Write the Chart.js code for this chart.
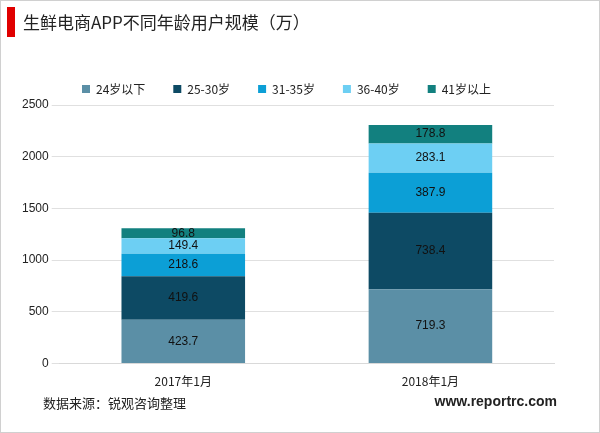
<!DOCTYPE html>
<html><head><meta charset="utf-8">
<script src="https://cdn.jsdelivr.net/npm/chart.js@4"></script>
<style>
body{margin:0;background:#fff;font-family:"Noto Sans CJK SC","Liberation Sans",sans-serif}
#wrap{position:relative;width:598px;height:431px;border:1px solid #d0d0d0}
#bar{position:absolute;left:6px;top:6px;width:8px;height:30px;background:#e00000}
#title{position:absolute;left:22px;top:6px;font-size:17px;color:#222;line-height:30px}
#src{position:absolute;left:42px;top:392px;font-size:13px;color:#222}
#web{position:absolute;right:42px;top:392px;font-size:14px;font-weight:bold;color:#222;font-family:"Liberation Sans",sans-serif}
canvas{position:absolute;left:0;top:0}
</style></head><body>
<div id="wrap">
<canvas id="c" width="598" height="431"></canvas>
<div id="bar"></div><div id="title">生鲜电商APP不同年龄用户规模（万）</div>
<div id="src">数据来源：锐观咨询整理</div><div id="web">www.reportrc.com</div>
</div>
<script>
// values
const years = ["2017年1月", "2018年1月"];
const groups = ["24岁以下", "25-30岁", "31-35岁", "36-40岁", "41岁以上"];
const under24 = [423.7, 719.3];
const age25to30 = [419.6, 738.4];
const age31to35 = [218.6, 387.9];
const age36to40 = [149.4, 283.1];
const over41 = [96.8, 178.8];
const colors = ["#5b8fa6", "#0d4a64", "#0c9fd6", "#6dcff3", "#12807f"];

const series = [under24, age25to30, age31to35, age36to40, over41];

const labelPlugin = {
  id: "vals",
  afterDatasetsDraw(chart) {
    const ctx = chart.ctx;
    ctx.save();
    ctx.font = "12px 'Liberation Sans', sans-serif";
    ctx.fillStyle = "#111";
    ctx.textAlign = "center";
    ctx.textBaseline = "middle";
    chart.data.datasets.forEach((ds, i) => {
      chart.getDatasetMeta(i).data.forEach((bar, j) => {
        const y = (bar.y + bar.base) / 2;
        ctx.fillText(ds.data[j].toFixed(1), bar.x, y);
      });
    });
    ctx.restore();
  }
};

new Chart(document.getElementById("c"), {
  type: "bar",
  data: {
    labels: years,
    datasets: series.map((d, i) => ({label: groups[i], data: d, backgroundColor: colors[i], categoryPercentage: 1, barPercentage: 0.5}))
  },
  options: {
    responsive: false, animation: false,
    layout: {padding: {top: 54, bottom: 40, left: 18, right: 45}},
    plugins: {
      legend: {labels: {boxWidth: 8, boxHeight: 8, font: {size: 12, family: "'Noto Sans CJK SC'"}, color: "#222", padding: 28}},
      tooltip: {enabled: false}
    },
    scales: {
      x: {stacked: true, grid: {display: false}, border: {color: "#d9d9d9"},
          ticks: {color: "#222", font: {size: 12, family: "'Noto Sans CJK SC'"}}},
      y: {stacked: true, min: 0, max: 2500, grid: {color: "#e0e0e0"}, border: {display: false},
          ticks: {stepSize: 500, color: "#222", font: {size: 12}, callback: v => String(v)}}
    }
  },
  plugins: [labelPlugin]
});
</script>
</body></html>
